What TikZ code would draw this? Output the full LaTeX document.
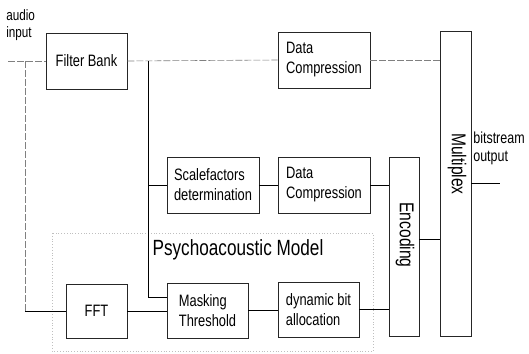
\documentclass[tikz,border=0pt]{standalone}
\usepackage{fontspec}
\setmainfont{Liberation Sans}[FakeStretch=0.78]
\begin{document}
\begin{tikzpicture}[x=1pt, y=-1pt, line width=0.7pt,
    block/.style={draw=black!85, inner sep=0pt, align=left,
        font=\fontsize{16.5}{20}\selectfont},
    faint/.style={draw=black!50, line width=0.6pt, dash pattern=on 7pt off 2pt},
    vlabel/.style={rotate=-90, font=\fontsize{20}{22}\selectfont}]
    \useasboundingbox (0,0) rectangle (529,353);

    % Psychoacoustic model frame
    \draw[black!25, dotted, line width=0.8pt] (52,233) rectangle (373,351);
    \node (pm) at (238,250) {\fontsize{22}{24}\selectfont Psychoacoustic Model};

    % Draw blocks
    \node[block, minimum width=81, minimum height=56] (fb) at (86.5,61) {Filter Bank};
    \node[block, minimum width=92, minimum height=56] (dc1) at (324,60) {Data\\Compression};
    \node[block, minimum width=92, minimum height=56] (sf) at (213,185) {Scalefactors\\determination};
    \node[block, minimum width=92, minimum height=56] (dc2) at (324,185) {Data\\Compression};
    \node[block, minimum width=61, minimum height=54] (fft) at (96.5,311) {FFT};
    \node[block, minimum width=81, minimum height=55] (mt) at (207.5,310.5) {Masking\\Threshold};
    \node[block, minimum width=81, minimum height=55] (dba) at (318.5,309.5) {dynamic bit\\allocation};
    \node[draw=black!85, minimum width=30, minimum height=179, inner sep=0pt] (enc) at (404,246.5) {};
    \node[draw=black!85, minimum width=31, minimum height=305, inner sep=0pt] (mux) at (455.5,183.5) {};

    % Vertical labels
    \node[vlabel] (enclab) at (405,235) {Encoding};
    \node[vlabel] (muxlab) at (457,164) {Multiplex};

    % Input and output labels
    \node[anchor=north west, align=left, inner sep=0pt,
        font=\fontsize{15}{17}\selectfont] (inlab) at (6,9) {audio\\input};
    \node[anchor=north west, align=left, inner sep=0pt,
        font=\fontsize{16}{18}\selectfont] (outlab) at (473,132) {bitstream\\output};

    % Junctions and free ends
    \coordinate (in) at (8,61);
    \coordinate (j1) at (25,61);
    \coordinate (j2) at (148,61);
    \coordinate (mtin) at (167,297);
    \coordinate (out) at (500,183.5);

    % Draw connectors
    \draw[faint] (in) -- (fb.west);
    \draw[faint] (fb.east) -- (dc1.west);
    \draw[faint] (dc1.east) -- (dc1.east -| mux.west);
    \draw[faint] (j1) -- (j1 |- fft.west);
    \draw (j1 |- fft.west) -- (fft.west);
    \draw (j2) -- (j2 |- mtin) -- (mtin);
    \draw (j2 |- sf.west) -- (sf.west);
    \draw (sf.east) -- (dc2.west);
    \draw (dc2.east) -- (dc2.east -| enc.west);
    \draw (fft.east) -- (fft.east -| mt.west);
    \draw (mt.east) -- (mt.east -| dba.west);
    \draw (dba.east) -- (dba.east -| enc.west);
    \draw ([yshift=7.5pt]enc.east) -- ([yshift=7.5pt]enc.east -| mux.west);
    \draw (mux.east) -- (out);
\end{tikzpicture}
\end{document}
